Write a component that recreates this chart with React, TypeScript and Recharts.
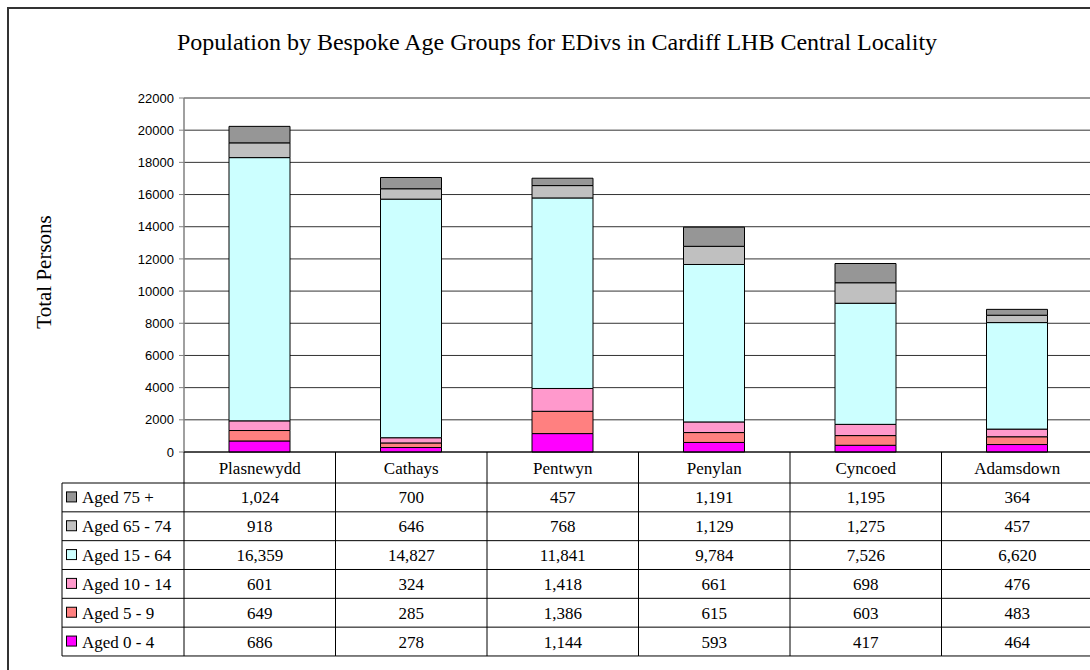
import React from 'react';
import { BarChart, Bar, XAxis, YAxis, CartesianGrid } from 'recharts';

const categories = ['Plasnewydd', 'Cathays', 'Pentwyn', 'Penylan', 'Cyncoed', 'Adamsdown'];

// stack order, bottom to top
const seriesNames = ['Aged 0 - 4', 'Aged 5 - 9', 'Aged 10 - 14', 'Aged 15 - 64', 'Aged 65 - 74', 'Aged 75 +'];
const seriesColors = ['#ff00ff', '#ff8080', '#ff99cc', '#ccffff', '#c0c0c0', '#969696'];

const aged0to4 = [686, 278, 1144, 593, 417, 464];
const aged5to9 = [649, 285, 1386, 615, 603, 483];
const aged10to14 = [601, 324, 1418, 661, 698, 476];
const aged15to64 = [16359, 14827, 11841, 9784, 7526, 6620];
const aged65to74 = [918, 646, 768, 1129, 1275, 457];
const aged75plus = [1024, 700, 457, 1191, 1195, 364];

const yTicks = [0, 2000, 4000, 6000, 8000, 10000, 12000, 14000, 16000, 18000, 20000, 22000];

const seriesValues = [aged0to4, aged5to9, aged10to14, aged15to64, aged65to74, aged75plus];
const keys = ['s0', 's1', 's2', 's3', 's4', 's5'];

const data = categories.map((name, i) => {
  const row: Record<string, number | string> = { name };
  seriesValues.forEach((vals, s) => {
    row[keys[s]] = vals[i];
  });
  return row;
});

const CHART_W = 1100;
const CHART_H = 670;
const PLOT_LEFT = 184;
const PLOT_TOP = 98;
const PLOT_BOTTOM = 452;
const PLOT_W = 909;
const BAND = PLOT_W / categories.length;
const HEADER_H = 31;
const ROW_H = 28.83;
const LEGEND_LEFT = 62;

const serif = '"Liberation Serif", "Times New Roman", serif';
const sans = '"Liberation Sans", Arial, sans-serif';

// table rows run top to bottom from the last series to the first
const tableRows = seriesNames.map((_, s) => seriesNames.length - 1 - s);

function TableColumn(props: any) {
  const { x, payload, index } = props;
  const left = x - BAND / 2;
  const right = x + BAND / 2;
  const tableBottom = PLOT_BOTTOM + HEADER_H + ROW_H * tableRows.length;
  return (
    <g>
      <line x1={left} x2={left} y1={PLOT_BOTTOM} y2={tableBottom} stroke="#000" />
      {index === categories.length - 1 && (
        <line x1={right} x2={right} y1={PLOT_BOTTOM} y2={tableBottom} stroke="#000" />
      )}
      <text x={x} y={PLOT_BOTTOM + HEADER_H / 2 + 6} textAnchor="middle" fontFamily={serif} fontSize={17} fill="#000">
        {payload.value}
      </text>
      {tableRows.map((s, r) => {
        const top = PLOT_BOTTOM + HEADER_H + ROW_H * r;
        return (
          <g key={s}>
            <line x1={left} x2={right} y1={top} y2={top} stroke="#000" />
            <text x={x} y={top + ROW_H / 2 + 6} textAnchor="middle" fontFamily={serif} fontSize={17} fill="#000">
              {seriesValues[s][index].toLocaleString('en-US')}
            </text>
          </g>
        );
      })}
      <line x1={left} x2={right} y1={tableBottom} y2={tableBottom} stroke="#000" />
    </g>
  );
}

function Overlay() {
  const tableTop = PLOT_BOTTOM + HEADER_H;
  const tableBottom = tableTop + ROW_H * tableRows.length;
  return (
    <svg width={CHART_W} height={CHART_H} style={{ position: 'absolute', left: 0, top: 0, pointerEvents: 'none' }}>
      <text x={557} y={50} textAnchor="middle" fontFamily={serif} fontSize={24} fill="#000">
        Population by Bespoke Age Groups for EDivs in Cardiff LHB Central Locality
      </text>
      <text
        x={0}
        y={0}
        transform="translate(51 272) rotate(-90)"
        textAnchor="middle"
        fontFamily={serif}
        fontSize={21}
        fill="#000"
      >
        Total Persons
      </text>
      <line x1={LEGEND_LEFT} x2={LEGEND_LEFT} y1={tableTop} y2={tableBottom} stroke="#000" />
      {tableRows.map((s, r) => {
        const top = tableTop + ROW_H * r;
        return (
          <g key={s}>
            <line x1={LEGEND_LEFT} x2={PLOT_LEFT} y1={top} y2={top} stroke="#000" />
            <rect x={66.5} y={top + ROW_H / 2 - 5.5} width={10} height={10} fill={seriesColors[s]} stroke="#000" />
            <text x={82} y={top + ROW_H / 2 + 6} fontFamily={serif} fontSize={17} fill="#000">
              {seriesNames[s]}
            </text>
          </g>
        );
      })}
      <line x1={LEGEND_LEFT} x2={PLOT_LEFT} y1={tableBottom} y2={tableBottom} stroke="#000" />
    </svg>
  );
}

export default function App() {
  return (
    <div style={{ position: 'fixed', left: 0, top: 0, width: 1090, height: 670, overflow: 'hidden', background: '#fff' }}>
      <div
        style={{
          position: 'absolute',
          left: 7,
          top: 7,
          width: 1200,
          height: 800,
          border: '2px solid #333',
          boxSizing: 'border-box',
        }}
      />
      <div style={{ position: 'absolute', left: 0, top: 0 }}>
        <BarChart
          width={CHART_W}
          height={CHART_H}
          data={data}
          barSize={61}
          margin={{ top: PLOT_TOP, left: PLOT_LEFT - 60, right: CHART_W - PLOT_LEFT - PLOT_W, bottom: CHART_H - PLOT_BOTTOM - 30 }}
        >
          <CartesianGrid vertical={false} stroke="#333" />
          <YAxis
            width={60}
            domain={[0, 22000]}
            ticks={yTicks}
            interval={0}
            tickSize={5}
            tickMargin={5}
            axisLine={{ stroke: '#808080', strokeWidth: 1.5 }}
            tickLine={{ stroke: '#808080' }}
            tick={{ fontFamily: sans, fontSize: 13, fill: '#000' }}
          />
          <XAxis
            dataKey="name"
            height={30}
            interval={0}
            axisLine={{ stroke: '#000' }}
            tickLine={false}
            tick={(p: any) => <TableColumn {...p} />}
          />
          {keys.map((k, s) => (
            <Bar
              key={k}
              dataKey={k}
              name={seriesNames[s]}
              stackId="a"
              fill={seriesColors[s]}
              stroke="#000"
              strokeWidth={1}
              isAnimationActive={false}
            />
          ))}
        </BarChart>
      </div>
      <Overlay />
    </div>
  );
}
